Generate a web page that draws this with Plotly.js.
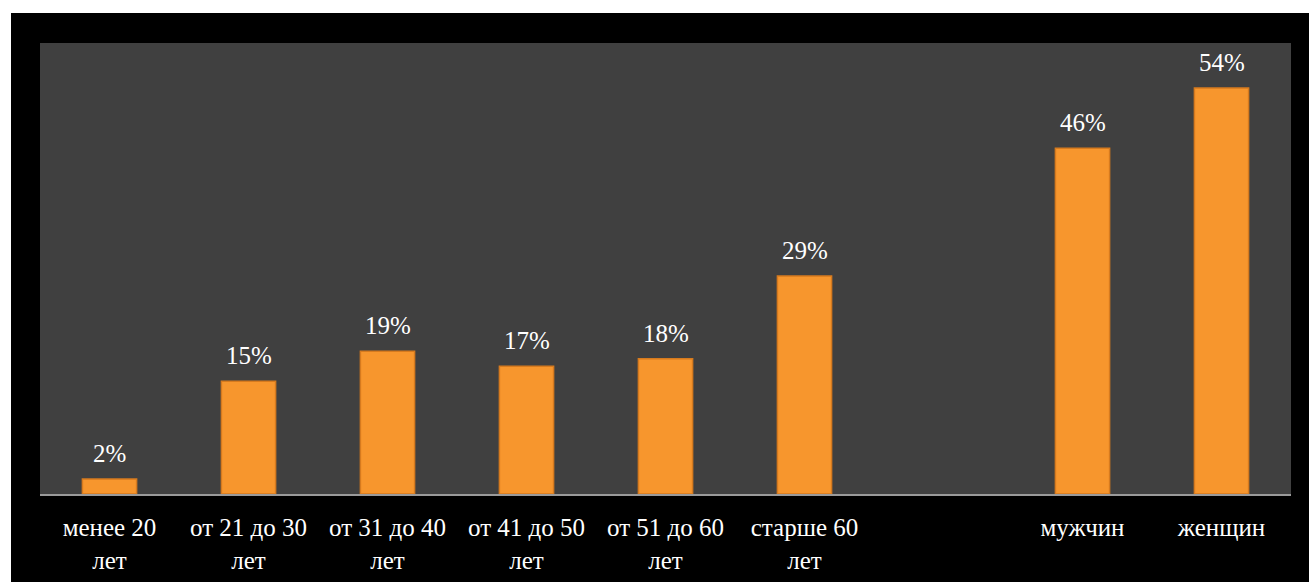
<!DOCTYPE html>
<html>
<head>
<meta charset="utf-8">
<script src="https://cdn.plot.ly/plotly-3.0.1.min.js"></script>
<style>
html,body{margin:0;padding:0;background:#ffffff;overflow:hidden;}
#chart{position:absolute;left:11px;top:13px;width:1298px;height:569px;}
</style>
</head>
<body>
<div id="chart"></div>
<script>
const categories = ["менее 20<br>лет","от 21 до 30<br>лет","от 31 до 40<br>лет","от 41 до 50<br>лет","от 51 до 60<br>лет","старше 60<br>лет"," ","мужчин","женщин"];
const values = [2, 15, 19, 17, 18, 29, null, 46, 54];
const valueLabels = values.map(v => v === null ? "" : v + "%");

const FONT = "'Liberation Serif', 'Times New Roman', serif";

const trace = {
  type: "bar",
  x: categories,
  y: values,
  marker: {color: "#F7962D", line: {color: "#D67A1E", width: 1.5}},
  hoverinfo: "none"
};

const annotations = [];
categories.forEach((c, i) => {
  if (values[i] === null) return;
  annotations.push({
    x: c, y: values[i], xref: "x", yref: "y",
    text: valueLabels[i], showarrow: false,
    yanchor: "bottom", yshift: 10,
    font: {family: FONT, size: 25, color: "#ffffff"}
  });
});

const layout = {
  width: 1298,
  height: 569,
  paper_bgcolor: "#000000",
  plot_bgcolor: "#404040",
  margin: {l: 29, r: 18, t: 30, b: 88, pad: 0},
  bargap: 0.61,
  showlegend: false,
  font: {family: FONT, color: "#ffffff", size: 25},
  annotations: annotations,
  xaxis: {
    type: "category",
    showgrid: false,
    zeroline: false,
    showline: true,
    linecolor: "#9a9a9a",
    linewidth: 2,
    ticks: "",
    ticklen: 0,
    ticklabelstandoff: 10,
    tickfont: {family: FONT, size: 25, color: "#ffffff"},
    automargin: false
  },
  yaxis: {
    range: [0, 60],
    showgrid: false,
    zeroline: false,
    showline: false,
    showticklabels: false,
    ticks: "",
    fixedrange: true
  }
};

Plotly.newPlot("chart", [trace], layout, {displayModeBar: false, staticPlot: true});
</script>
</body>
</html>
